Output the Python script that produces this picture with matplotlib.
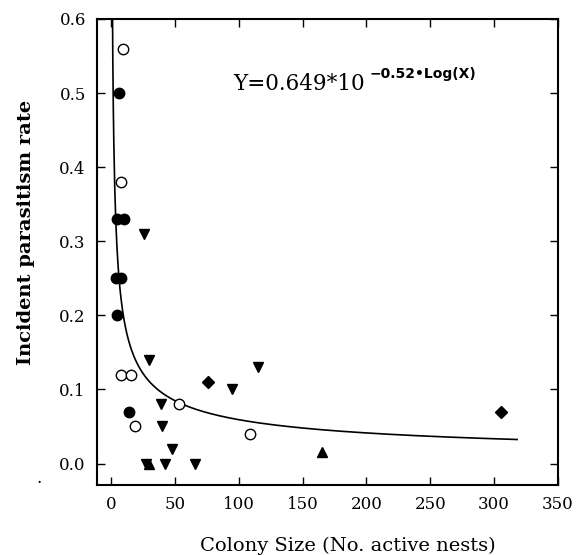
import numpy as np
import matplotlib
matplotlib.use("Agg")
import matplotlib.pyplot as plt

# colony size vs. incident parasitism rate, one list pair per symbol
filled_circle_x = [6, 5, 10, 4, 8, 5, 14]
filled_circle_y = [0.50, 0.33, 0.33, 0.25, 0.25, 0.20, 0.07]

open_circle_x = [9, 8, 8, 16, 19, 53, 109]
open_circle_y = [0.56, 0.38, 0.12, 0.12, 0.05, 0.08, 0.04]

tri_down_x = [26, 30, 39, 40, 48, 27, 42, 66, 95, 115]
tri_down_y = [0.31, 0.14, 0.08, 0.05, 0.02, 0.0, 0.0, 0.0, 0.10, 0.13]

tri_up_x = [30, 165]
tri_up_y = [0.0, 0.015]

diamond_x = [76, 305]
diamond_y = [0.11, 0.07]

# fitted curve Y = 0.649 * 10^(-0.52 log X)
fit_a = 0.649
fit_b = -0.52
fit_xmax = 318

plt.rcParams['font.family'] = ['DejaVu Serif']

fig = plt.figure(figsize=(5.79, 5.55), dpi=100)
ax = fig.add_axes([0.1675, 0.1261, 0.7962, 0.8397])

xs = np.linspace(1, fit_xmax, 800)
ax.plot(xs, fit_a * 10 ** (fit_b * np.log10(xs)), color='black', lw=1.2)

ms = 7.5
ax.plot(filled_circle_x, filled_circle_y, 'o', color='black', ms=ms, ls='none')
ax.plot(open_circle_x, open_circle_y, 'o', mfc='white', mec='black', mew=1.0, ms=ms, ls='none')
ax.plot(tri_down_x, tri_down_y, 'v', color='black', ms=ms, ls='none')
ax.plot(tri_up_x, tri_up_y, '^', color='black', ms=ms, ls='none')
ax.plot(diamond_x, diamond_y, 'D', color='black', ms=6, ls='none')

ax.set_xlim(-11, 347)
ax.set_ylim(-0.029, 0.6)
ax.set_xticks([0, 50, 100, 150, 200, 250, 300, 350])
ax.set_yticks([0.0, 0.1, 0.2, 0.3, 0.4, 0.5, 0.6])
ax.yaxis.set_major_formatter(matplotlib.ticker.FormatStrFormatter('%.1f'))
ax.tick_params(direction='in', top=True, right=True, length=6, width=1,
               labelsize=12, pad=8)
for s in ax.spines.values():
    s.set_linewidth(1.5)

ax.set_xlabel('Colony Size (No. active nests)', fontsize=14, va='center')
ax.xaxis.set_label_coords(0.545, -0.13)
ax.set_ylabel('Incident parasitism rate', fontsize=14, fontweight='bold', va='center')
ax.yaxis.set_label_coords(-0.155, 0.543)

ax.text(0.295, 0.86, 'Y=0.649*10', transform=ax.transAxes,
        fontsize=15.5, va='center', ha='left')
ax.text(0.592, 0.882, '\u22120.52\u2022Log(X)', transform=ax.transAxes,
        fontsize=10, fontweight='bold', family='DejaVu Sans', va='center', ha='left')

fig.text(0.062, 0.13, '.', fontsize=12)

fig.savefig('out.png', dpi=100)
